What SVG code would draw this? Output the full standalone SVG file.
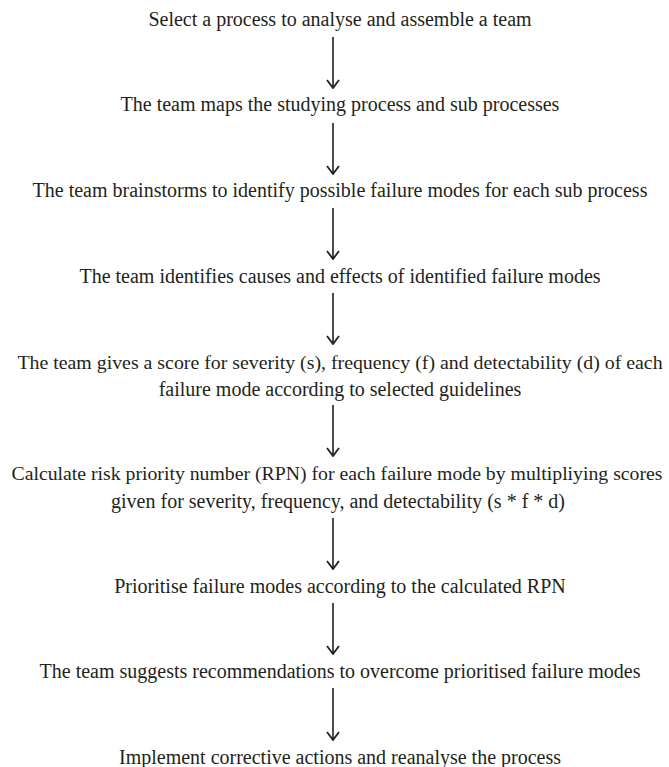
<svg xmlns="http://www.w3.org/2000/svg" width="669" height="767" viewBox="0 0 669 767">
  <style>
    .t { font-family: "Liberation Serif", "Times New Roman", serif; font-size: 20px; fill: #231f20; text-anchor: middle; }
    .c { stroke: #231f20; stroke-width: 1.6; fill: none; }
  </style>
  <defs>
    <!-- open chevron head, drawn along +x so orient="auto" points it down the line -->
    <marker id="head" viewBox="0 0 10 14" refX="9" refY="7" markerWidth="10" markerHeight="14" markerUnits="userSpaceOnUse" orient="auto">
      <path d="M1,1 L9,7 L1,13" fill="none" stroke="#231f20" stroke-width="1.8"/>
    </marker>
  </defs>
  <rect width="669" height="767" fill="#ffffff"/>

  <g id="connectors">
    <line class="c" x1="333" y1="37" x2="333" y2="88" marker-end="url(#head)"/>
    <line class="c" x1="333" y1="123" x2="333" y2="174" marker-end="url(#head)"/>
    <line class="c" x1="333" y1="208" x2="333" y2="259" marker-end="url(#head)"/>
    <line class="c" x1="333" y1="293" x2="333" y2="344" marker-end="url(#head)"/>
    <line class="c" x1="333" y1="405" x2="333" y2="456" marker-end="url(#head)"/>
    <line class="c" x1="333" y1="518" x2="333" y2="569" marker-end="url(#head)"/>
    <line class="c" x1="333" y1="603" x2="333" y2="654" marker-end="url(#head)"/>
    <line class="c" x1="333" y1="688" x2="333" y2="740" marker-end="url(#head)"/>
  </g>

  <g id="step1"><text class="t" x="340" y="26">Select a process to analyse and assemble a team</text></g>
  <g id="step2"><text class="t" x="340" y="111">The team maps the studying process and sub processes</text></g>
  <g id="step3"><text class="t" x="340" y="197">The team brainstorms to identify possible failure modes for each sub process</text></g>
  <g id="step4"><text class="t" x="340" y="283">The team identifies causes and effects of identified failure modes</text></g>
  <g id="step5">
    <text class="t" x="340" y="369" style="font-size:19.85px">The team gives a score for severity (s), frequency (f) and detectability (d) of each</text>
    <text class="t" x="340" y="396">failure mode according to selected guidelines</text>
  </g>
  <g id="step6">
    <text class="t" x="337" y="480" style="font-size:19.75px">Calculate risk priority number (RPN) for each failure mode by multipliying scores</text>
    <text class="t" x="338" y="508">given for severity, frequency, and detectability (s * f * d)</text>
  </g>
  <g id="step7"><text class="t" x="340" y="593">Prioritise failure modes according to the calculated RPN</text></g>
  <g id="step8"><text class="t" x="340" y="678">The team suggests recommendations to overcome prioritised failure modes</text></g>
  <g id="step9"><text class="t" x="340" y="764">Implement corrective actions and reanalyse the process</text></g>
</svg>
